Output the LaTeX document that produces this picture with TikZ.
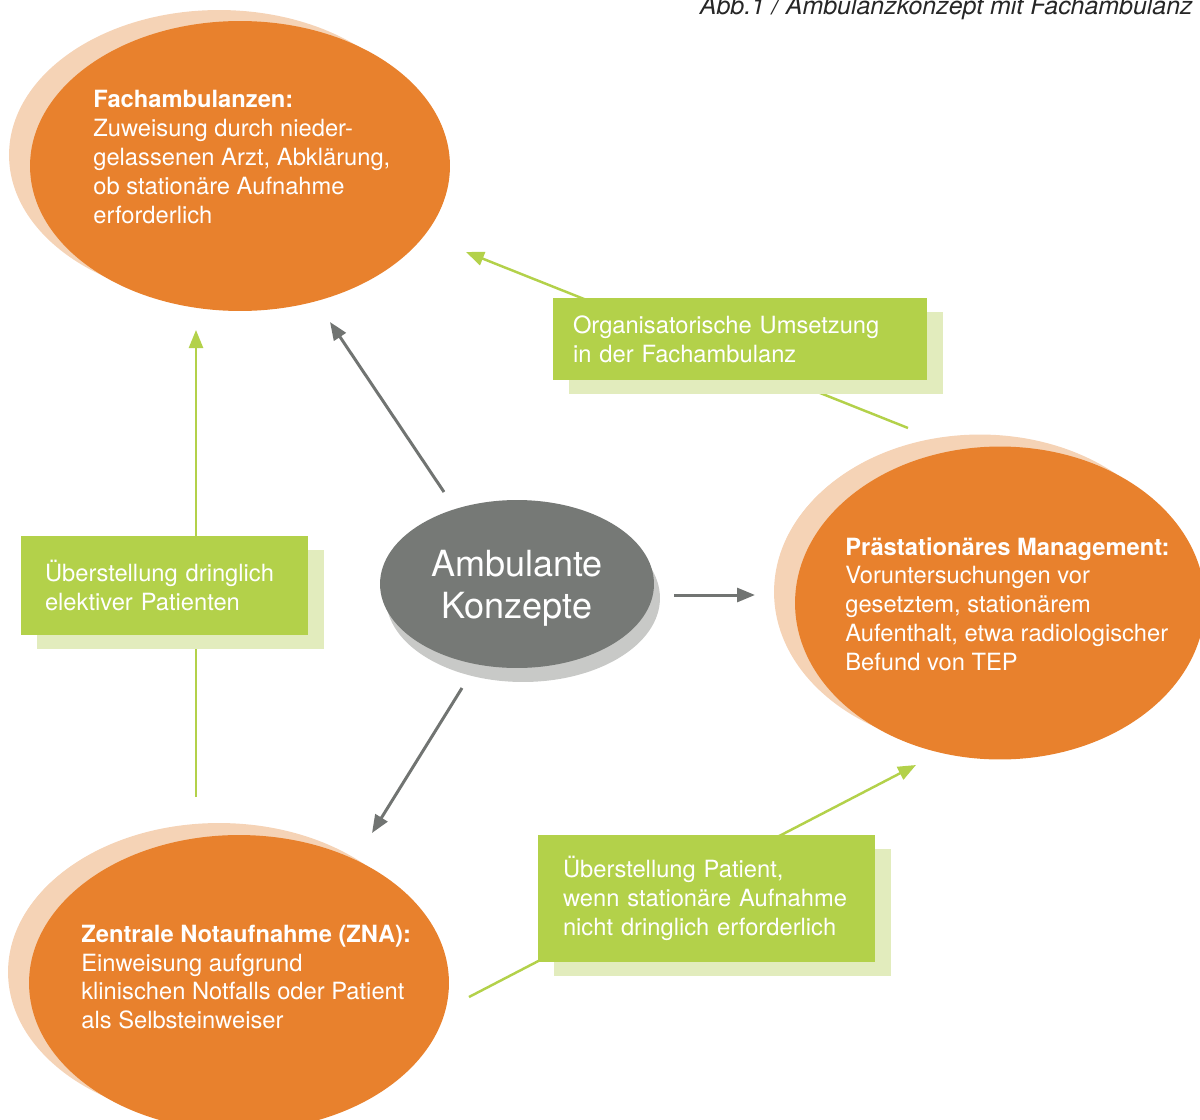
\documentclass[tikz,border=0pt]{standalone}
\usepackage{fontspec}
\setmainfont{TeX Gyre Heros}
\usetikzlibrary{shapes.geometric, arrows.meta, positioning, calc, shadows}

\definecolor{amborange}{HTML}{E8812D}
\definecolor{ambpeach}{HTML}{F5D3B6}
\definecolor{ambgray}{HTML}{767976}
\definecolor{ambgrayshadow}{HTML}{C8C9C7}
\definecolor{ambarrow}{HTML}{717472}
\definecolor{ambgreen}{HTML}{B3D14A}
\definecolor{amblightgreen}{HTML}{E2ECBD}

\begin{document}
\begin{tikzpicture}[x=0.02cm, y=-0.02cm, >={Triangle[length=0.36cm, width=0.28cm]}]
        % Styles
        \tikzstyle{bubble} = [ellipse, fill=amborange, inner sep=0pt, drop shadow={shadow xshift=-0.42cm, shadow yshift=0.22cm, fill=ambpeach, opacity=1}]
        \tikzstyle{bubbletext} = [align=left, text=white, inner sep=0pt, anchor=west, font=\fontsize{13.5pt}{16.4pt}\selectfont]
        \tikzstyle{core} = [ellipse, fill=ambgray, inner sep=0pt, minimum width=5.48cm, minimum height=3.36cm, drop shadow={shadow xshift=0.12cm, shadow yshift=-0.28cm, fill=ambgrayshadow, opacity=1}]
        \tikzstyle{coretext} = [text=white, align=center, inner sep=0pt, font=\fontsize{20.5pt}{23.8pt}\selectfont]
        \tikzstyle{note} = [rectangle, fill=ambgreen, text=white, align=left, inner ysep=0pt, font=\fontsize{13.5pt}{16.4pt}\selectfont, drop shadow={shadow xshift=0.32cm, shadow yshift=-0.28cm, fill=amblightgreen, opacity=1}]
        \tikzstyle{grayline} = [draw=ambarrow, line width=1.7pt, ->]
        \tikzstyle{greenline} = [draw=ambgreen, line width=1.4pt, ->]

        \useasboundingbox (0,0) rectangle (1200,1119);

        % Caption
        \node [anchor=base east, inner sep=0pt, text=black!85, font=\fontsize{14.2pt}{16pt}\selectfont\itshape] (caption) at (1193,14) {Abb.1 / Ambulanzkonzept mit Fachambulanz};

        % Nodes
        \node (fach) [bubble, minimum width=8.4cm, minimum height=5.8cm] at (240,166) {};
        \node (praest) [bubble, minimum width=8.2cm, minimum height=6.26cm, drop shadow={shadow xshift=-0.4cm, shadow yshift=0.24cm, fill=ambpeach, opacity=1}] at (1000,603) {};
        \node (zna) [bubble, minimum width=8.4cm, minimum height=5.92cm, drop shadow={shadow xshift=-0.4cm, shadow yshift=0.24cm, fill=ambpeach, opacity=1}] at (239,983) {};
        \node (amb) [core] at (517,584) {};
        \node (ambtxt) [coretext] at ($(amb)+(0,4)$) {Ambulante\\Konzepte};

        \node (fachtxt) [bubbletext] at ($(fach)+(-147,-9)$) {\textbf{Fachambulanzen:}\\Zuweisung durch nieder-\\gelassenen Arzt, Abklärung,\\ob stationäre Aufnahme\\erforderlich};
        \node (praesttxt) [bubbletext] at ($(praest)+(-155,1)$) {\textbf{Prästationäres Management:}\\Voruntersuchungen vor\\gesetztem, stationärem\\Aufenthalt, etwa radiologischer\\Befund von TEP};
        \node (znatxt) [bubbletext] at ($(zna)+(-158,-6)$) {\textbf{Zentrale Notaufnahme (ZNA):}\\Einweisung aufgrund\\klinischen Notfalls oder Patient\\als Selbsteinweiser};

        % Gray arrows from the centre
        \path [grayline] ($(amb)+(-73,-92)$) -- ($(fach)+(90,156)$);
        \path [grayline] ($(amb)+(157,11)$) -- ($(praest)+(-245,-8)$);
        \path [grayline] ($(amb)+(-55,104)$) -- ($(zna)+(133,-150)$);

        % Green arrows (behind the boxes)
        \path [greenline] ($(praest)+(-92,-175)$) -- ($(fach)+(226,86)$);
        \path [greenline] ($(zna)+(-43,-186)$) -- ($(fach)+(-44,164)$);
        \path [greenline] ($(zna)+(230,14)$) -- ($(praest)+(-84,162)$);

        % Boxes
        \node (orga) [note, inner xsep=0.4cm, text width=6.68cm, minimum height=1.64cm] at (740,339) {Organisatorische Umsetzung\\in der Fachambulanz};
        \node (elektiv) [note, inner xsep=0.48cm, text width=4.78cm, minimum height=1.98cm] at (164.5,585.5) {Überstellung dringlich\\elektiver Patienten};
        \node (nichtdr) [note, inner xsep=0.5cm, text width=5.74cm, minimum height=2.54cm] at (706.5,898.5) {Überstellung Patient,\\wenn stationäre Aufnahme\\nicht dringlich erforderlich};

    \end{tikzpicture}
\end{document}
